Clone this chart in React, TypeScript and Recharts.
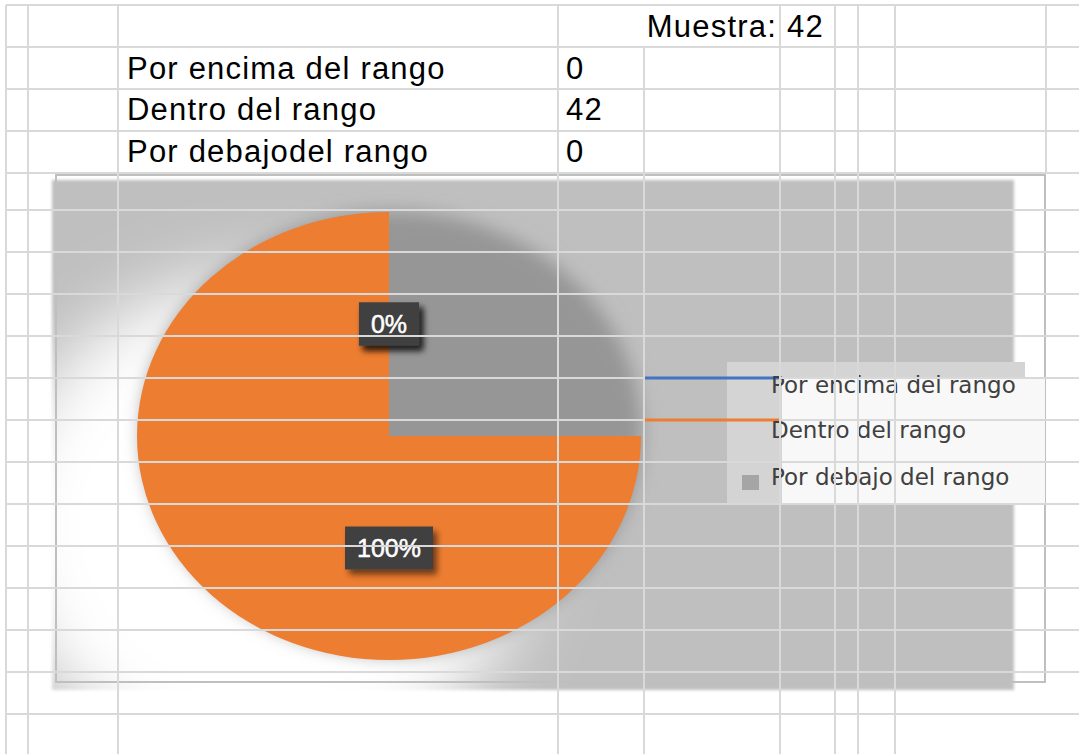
import React from 'react';
import { PieChart, Pie, Cell, Legend } from 'recharts';

// ---- data ----
const categories = ['Por encima del rango', 'Dentro del rango', 'Por debajo del rango'];
const tableLabels = ['Por encima del rango', 'Dentro del rango', 'Por debajodel rango'];
const values = [0, 42, 0];
const sampleLabel = 'Muestra:';
const sampleSize = 42;
const colors = ['#4472c4', '#ed7d31', '#a5a5a5'];

const pieData = categories.map((name, i) => ({ name, value: values[i] }));

// ---- layout ----
const W = 1079;
const H = 754;
const CX = 389;
const CY = 436;
const RX = 252;
const RY = 224;
const SY = RY / RX;
const GRID = '#d9d9d9';

const hLines = [5, 47, 89, 131, 173, 210, 252, 294, 336, 378, 420, 462, 504, 546, 588, 630, 672, 714];
const vLines: [number, number, number][] = [
  [6, 5, H], [28, 5, H], [118, 5, H], [558, 5, H], [644, 47, H], [780, 5, H],
  [835, 5, H], [858, 5, H], [895, 5, H], [1046, 5, 174],
];
const legendMarkerRows = [378, 420];

const RAD = Math.PI / 180;

const renderLabel = (p: any) => {
  const total = values.reduce((a, b) => a + b, 0);
  const pct = p.percent != null ? p.percent : (total ? p.value / total : 0);
  const text = `${Math.round(pct * 100)}%`;
  const r = p.outerRadius * 0.5;
  const x = p.cx + r * Math.cos(-p.midAngle * RAD);
  const y = p.cy + r * SY * Math.sin(-p.midAngle * RAD);
  let tw = 0;
  for (const ch of text) tw += ch === '%' ? 22.2 : 13.9;
  const bw = tw + 24;
  const bh = 43;
  return (
    <g key={`lbl-${p.index}`}>
      <rect x={x - bw / 2} y={y - bh / 2} width={bw} height={bh} fill="#404040" filter="url(#lblShadow)" />
      <text x={x} y={y + 9} textAnchor="middle" fill="#ffffff" stroke="#ffffff" strokeWidth={0.5}
        fontSize={25} fontFamily="'Liberation Sans', Arial, sans-serif">{text}</text>
    </g>
  );
};

const renderLegend = () => {
  const baselines = [31, 76, 123];
  return (
    <div style={{ position: 'relative', width: 318, height: 141 }}>
      <div style={{ position: 'absolute', left: 0, top: 0, width: 298, height: 141, background: '#d4d4d4' }} />
      <div style={{ position: 'absolute', left: 55, top: 16, width: 263, height: 125, background: '#f8f8f8' }} />
      <svg width={318} height={141} style={{ position: 'absolute', left: 0, top: 0, overflow: 'visible' }}>
        {categories.map((name, i) => (
          <g key={name}>
            {i < 2 ? (
              <rect x={-83} y={legendMarkerRows[i] - 362 - 1.5} width={136} height={3} fill={colors[i]} />
            ) : (
              <rect x={15} y={113} width={17} height={15} fill={colors[i]} />
            )}
            <text x={44} y={baselines[i]} fontSize={23} fill="#404040"
              fontFamily="'DejaVu Sans', sans-serif">{name}</text>
          </g>
        ))}
      </svg>
    </div>
  );
};

export default function App() {
  return (
    <div style={{ position: 'absolute', left: 0, top: 0, width: W, height: H, background: '#ffffff', overflow: 'hidden' }}>
      {/* background of the chart area */}
      <svg width={W} height={H} style={{ position: 'absolute', left: 0, top: 0 }}>
        <defs>
          <filter id="glowBlur" x="-50%" y="-50%" width="200%" height="200%">
            <feGaussianBlur stdDeviation="35" />
          </filter>
          <filter id="shadowBlur" x="-20%" y="-20%" width="140%" height="140%">
            <feGaussianBlur stdDeviation="9" />
          </filter>
          <filter id="edgeBlur" x="-5%" y="-5%" width="110%" height="110%">
            <feGaussianBlur stdDeviation="1.5" />
          </filter>
          <filter id="lblShadow" x="-40%" y="-40%" width="180%" height="180%">
            <feDropShadow dx="4" dy="5" stdDeviation="3" floodColor="#000000" floodOpacity="0.55" />
          </filter>
        </defs>
        <rect x={52} y={180} width={962} height={510} fill="#bfbfbf" filter="url(#edgeBlur)" />
        <ellipse cx={265} cy={525} rx={265} ry={250} fill="#ffffff" filter="url(#glowBlur)" />
        <ellipse cx={392} cy={433} rx={250} ry={222} fill="#969696" filter="url(#shadowBlur)" />
        <rect x={56} y={175} width={989} height={507} fill="none" stroke="#bfbfbf" strokeWidth={2} />
      </svg>

      {/* visible pie, squashed vertically into an ellipse */}
      <div style={{
        position: 'absolute', left: CX - 260, top: CY - 260, width: 520, height: 520,
        transform: `scaleY(${SY})`, transformOrigin: '260px 260px',
      }}>
        <PieChart width={520} height={520} margin={{ top: 0, right: 0, bottom: 0, left: 0 }}>
          <Pie data={pieData} dataKey="value" nameKey="name" cx={260} cy={260} outerRadius={RX}
            startAngle={90} endAngle={360} stroke="none" isAnimationActive={false}
            label={false} labelLine={false}>
            {pieData.map((d, i) => <Cell key={d.name} fill={colors[i]} />)}
          </Pie>
        </PieChart>
      </div>

      {/* labels + legend */}
      <div style={{ position: 'absolute', left: 0, top: 0 }}>
        <PieChart width={W} height={H} margin={{ top: 0, right: 0, bottom: 0, left: 0 }}>
          <Pie data={pieData} dataKey="value" nameKey="name" cx={CX} cy={CY} outerRadius={RX}
            startAngle={90} endAngle={-270} fillOpacity={0} stroke="none" isAnimationActive={false}
            labelLine={false} label={renderLabel}>
            {pieData.map((d, i) => <Cell key={d.name} fill={colors[i]} fillOpacity={0} />)}
          </Pie>
          <Legend layout="vertical" align="right" verticalAlign="middle" content={renderLegend}
            wrapperStyle={{ left: 727, top: 362, width: 318, height: 141 }} />
        </PieChart>
      </div>

      {/* spreadsheet grid and cell texts on top */}
      <svg width={W} height={H} style={{ position: 'absolute', left: 0, top: 0, pointerEvents: 'none' }}>
        {hLines.map((y) =>
          legendMarkerRows.includes(y) ? (
            <g key={`h${y}`}>
              <line x1={6} x2={644} y1={y} y2={y} stroke={GRID} strokeWidth={2} />
              <line x1={780} x2={W} y1={y} y2={y} stroke={GRID} strokeWidth={2} />
            </g>
          ) : (
            <line key={`h${y}`} x1={6} x2={W} y1={y} y2={y} stroke={GRID} strokeWidth={2} />
          )
        )}
        {vLines.map(([x, y1, y2]) => (
          <line key={`v${x}`} x1={x} x2={x} y1={y1} y2={y2} stroke={GRID} strokeWidth={2} />
        ))}
        <g fontFamily="'Liberation Sans', Arial, sans-serif" fontSize={31} fill="#000000" letterSpacing={1.2}>
          <text x={777} y={37} textAnchor="end">{sampleLabel}</text>
          <text x={787} y={37}>{sampleSize}</text>
          {tableLabels.map((t, i) => (
            <text key={t} x={127} y={78.5 + i * 41.8}>{t}</text>
          ))}
          {values.map((v, i) => (
            <text key={`val${i}`} x={566} y={78.5 + i * 41.8}>{v}</text>
          ))}
        </g>
      </svg>
    </div>
  );
}
